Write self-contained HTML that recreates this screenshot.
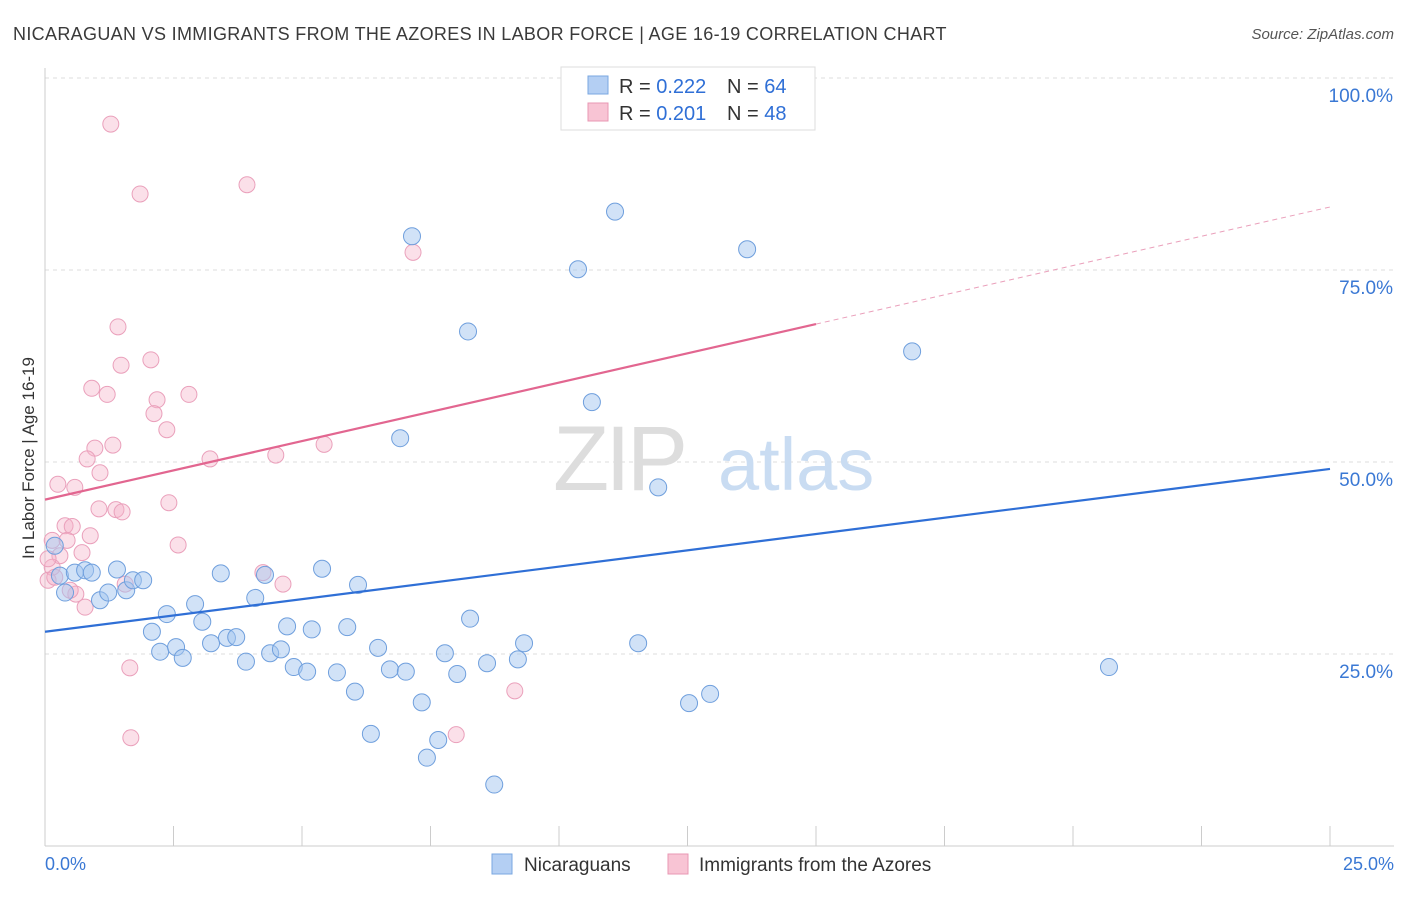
<!DOCTYPE html>
<html><head><meta charset="utf-8">
<style>
body{margin:0;background:#fff;font-family:"Liberation Sans",sans-serif;}
svg text{font-family:"Liberation Sans",sans-serif;}
</style></head>
<body>
<svg id="chart" width="1406" height="892" xmlns="http://www.w3.org/2000/svg">
<text x="13" y="40" font-size="18" fill="#3a3a3a" letter-spacing="0.33">NICARAGUAN VS IMMIGRANTS FROM THE AZORES IN LABOR FORCE | AGE 16-19 CORRELATION CHART</text>
<text x="1394" y="39" font-size="15" fill="#555" text-anchor="end" font-style="italic">Source: ZipAtlas.com</text>
<g id="grid"></g>
<text x="553" y="490" font-size="92" fill="#ddd" font-family="Liberation Serif" letter-spacing="-4">ZIP</text>
<text x="718" y="490" font-size="74" fill="#c9dcf2">atlas</text>
<g id="points"></g>
<g id="lines"></g>
<text transform="translate(34,458) rotate(-90)" font-size="17" fill="#333" text-anchor="middle">In Labor Force | Age 16-19</text>
<g>
<rect x="561" y="67" width="254" height="63" fill="#fff" stroke="#ddd"/>
<rect x="588" y="76" width="20" height="18" fill="#b4cff3" stroke="#7aa7e0"/>
<rect x="588" y="103" width="20" height="18" fill="#f8c4d4" stroke="#e897b3"/>
<text x="619" y="93" font-size="20" fill="#333">R = <tspan fill="#2f6fd6">0.222</tspan></text>
<text x="727" y="93" font-size="20" fill="#333">N = <tspan fill="#2f6fd6">64</tspan></text>
<text x="619" y="120" font-size="20" fill="#333">R = <tspan fill="#2f6fd6">0.201</tspan></text>
<text x="727" y="120" font-size="20" fill="#333">N = <tspan fill="#2f6fd6">48</tspan></text>
</g>
<g>
<rect x="492" y="854" width="20" height="20" fill="#b4cff3" stroke="#7aa7e0"/>
<text x="524" y="871" font-size="19" fill="#333">Nicaraguans</text>
<rect x="668" y="854" width="20" height="20" fill="#f8c4d4" stroke="#e897b3"/>
<text x="699" y="871" font-size="19" fill="#333">Immigrants from the Azores</text>
</g>
</svg>
<script>
const xTicks=[0,2.5,5,7.5,10,12.5,15,17.5,20,22.5,25];
const yTicks=[25,50,75,100];
const yTickLabels=["25.0%","50.0%","75.0%","100.0%"];
const xEndLabels=["0.0%","25.0%"];
const blueX=[7.14,11.09,13.66,10.37,8.23,16.87,10.64,6.91,11.93,20.70,0.19,0.29,0.39,0.58,0.78,0.91,1.07,1.23,1.40,1.58,1.71,1.91,2.08,2.24,2.37,2.55,2.68,2.92,3.06,3.23,3.54,3.72,3.42,3.91,4.09,4.28,4.38,4.59,4.71,4.84,5.10,5.19,5.39,5.68,5.88,6.03,6.09,6.34,6.48,6.71,7.02,7.33,7.65,7.43,7.78,8.02,8.27,8.60,8.74,9.20,9.32,11.54,12.53,12.94];
const blueY=[79.4,82.6,77.7,75.1,67.0,64.4,57.8,53.1,46.7,23.3,39.1,35.2,33.0,35.6,35.9,35.6,32.0,33.0,36.0,33.3,34.6,34.6,27.9,25.3,30.2,25.9,24.5,31.5,29.2,26.4,27.1,27.2,35.5,24.0,32.3,35.3,25.1,25.6,28.6,23.3,22.7,28.2,36.1,22.6,28.5,20.1,34.0,14.6,25.8,23.0,22.7,18.7,13.8,11.5,25.1,22.4,29.6,23.8,8.0,24.3,26.4,26.4,18.6,19.8];
const pinkX=[1.28,1.85,3.93,7.16,1.42,2.06,1.48,0.91,1.21,2.80,2.18,2.12,2.37,0.97,1.32,5.43,4.49,0.82,3.21,1.07,0.25,0.58,2.41,1.05,1.38,1.50,0.39,0.53,0.88,2.59,0.14,0.43,0.72,0.29,0.14,4.24,0.06,4.63,0.60,1.56,0.78,1.65,1.67,8.00,9.14,0.19,0.49,0.06];
const pinkY=[94.0,84.9,86.1,77.3,67.6,63.3,62.6,59.6,58.8,58.8,58.1,56.3,54.2,51.8,52.2,52.3,50.9,50.4,50.4,48.6,47.1,46.7,44.7,43.9,43.8,43.5,41.7,41.6,40.4,39.2,39.8,39.8,38.2,37.8,36.3,35.6,34.6,34.1,32.8,34.1,31.1,23.2,14.1,14.5,20.2,35.0,33.3,37.4];
const blueTrend=[27.9,49.1];
const pinkTrend=[45.1,83.2];
const pinkSolidEnd=15;
const X=v=>45+v/25*1285, Y=v=>846-v/25*192;
const NS="http://www.w3.org/2000/svg";
function mk(t,a,p){const e=document.createElementNS(NS,t);for(const k in a)e.setAttribute(k,a[k]);p.appendChild(e);return e;}
const grid=document.getElementById('grid');
yTicks.forEach((t,i)=>{
 const l=mk('line',{x1:45,x2:1394,y1:Y(t),y2:Y(t),stroke:'#ddd','stroke-dasharray':'4,4'},grid);
 
 
 const tx=mk('text',{x:1393,y:Y(t)+24,'font-size':19,fill:'#3a78d4','text-anchor':'end'},grid);
 tx.textContent=yTickLabels[i];
 
 
});
const ax=mk('line',{x1:45,x2:45,y1:68,y2:846,stroke:'#ccc'},grid);


const bx=mk('line',{x1:45,x2:1394,y1:846,y2:846,stroke:'#ccc'},grid);


xTicks.forEach(t=>{
 const l=mk('line',{x1:X(t),x2:X(t),y1:826,y2:846,stroke:'#ccc'},grid);
 
 
});
const xl0=mk('text',{x:45,y:870,'font-size':18,fill:'#3a78d4'},grid);xl0.textContent=xEndLabels[0];


const xl1=mk('text',{x:1394,y:870,'font-size':18,fill:'#3a78d4','text-anchor':'end'},grid);xl1.textContent=xEndLabels[1];


const pts=document.getElementById('points');
pinkX.forEach((v,i)=>{
 const c=mk('circle',{cx:X(v),cy:Y(pinkY[i]),r:8,fill:'rgba(246,178,200,0.4)',stroke:'#eaa0bb','stroke-width':1},pts);
 
 
});
blueX.forEach((v,i)=>{
 const c=mk('circle',{cx:X(v),cy:Y(blueY[i]),r:8.5,fill:'rgba(164,197,240,0.5)',stroke:'#6f9fdd','stroke-width':1},pts);
 
 
});
const ln=document.getElementById('lines');
const b=mk('line',{x1:X(0),y1:Y(blueTrend[0]),x2:X(25),y2:Y(blueTrend[1]),stroke:'#2f6fd6','stroke-width':2.2},ln);


const pm=pinkTrend[0]+(pinkTrend[1]-pinkTrend[0])*pinkSolidEnd/25;
const p1=mk('line',{x1:X(0),y1:Y(pinkTrend[0]),x2:X(pinkSolidEnd),y2:Y(pm),stroke:'#e26690','stroke-width':2.2},ln);


const p2=mk('line',{x1:X(pinkSolidEnd),y1:Y(pm),x2:X(25),y2:Y(pinkTrend[1]),stroke:'#eaa0bb','stroke-width':1,'stroke-dasharray':'5,4'},ln);


</script>
</body></html>
